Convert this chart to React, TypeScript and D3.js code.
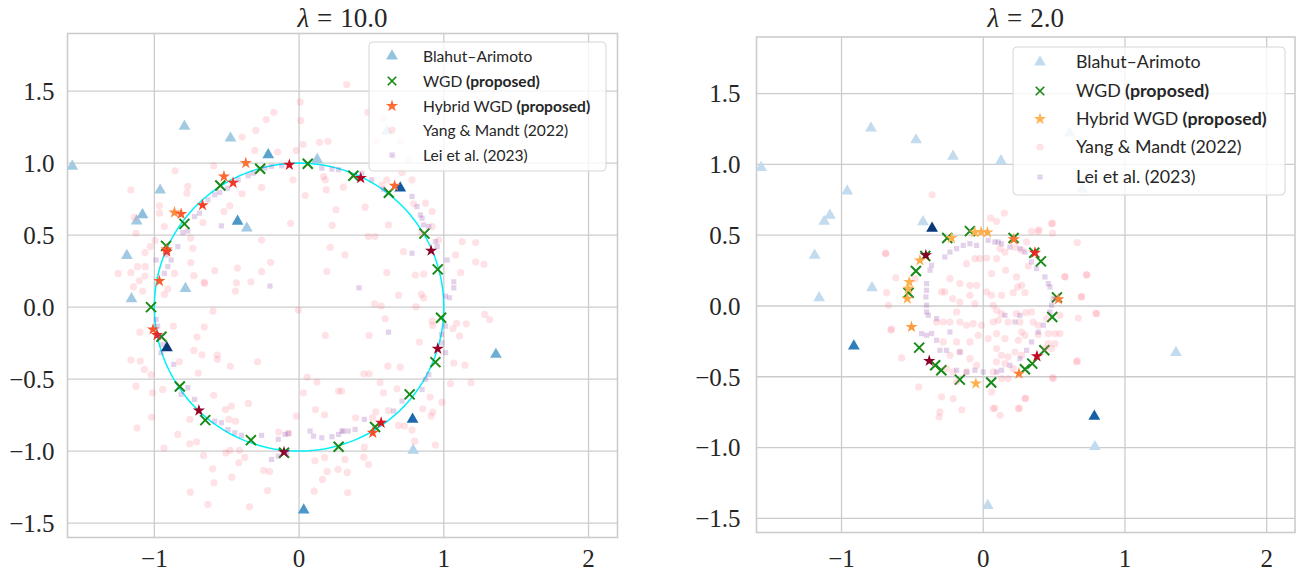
import React from 'react';
import * as d3 from 'd3';

const W = 1297;
const H = 575;

const xTicks = [-1, 0, 1, 2];
const yTicks = [-1.5, -1, -0.5, 0, 0.5, 1, 1.5];
const lambdaLabels = ['10.0', '2.0'];
const legendLabels = ['Blahut\u2013Arimoto', 'WGD', 'Hybrid WGD', 'Yang & Mandt (2022)', 'Lei et al. (2023)'];

// Blahut–Arimoto support points (shared by both panels), with per-panel weights
const baPoints: [number, number][] = [
  [-1.567, 0.977], [-0.792, 1.256], [-0.474, 1.173], [-0.213, 1.057], [0.125, 1.025],
  [-0.96, 0.812], [-1.082, 0.641], [-1.122, 0.597], [-0.425, 0.595], [-0.361, 0.548],
  [-1.19, 0.358], [-1.158, 0.057], [-0.785, 0.128], [-0.913, -0.283], [0.032, -1.41],
  [0.699, 0.826], [0.608, 1.222], [1.36, -0.329], [0.784, -0.78], [0.788, -0.994],
];
const baWeightLeft = [0.36, 0.36, 0.36, 0.55, 0.36, 0.36, 0.42, 0.36, 0.6, 0.36, 0.36, 0.36, 0.36, 0.98, 0.6, 0.84, 0.3, 0.5, 0.78, 0.3];
const baWeightRight = [0.25, 0.25, 0.25, 0.25, 0.25, 0.25, 0.25, 0.25, 0.25, 0.97, 0.25, 0.25, 0.25, 0.7, 0.25, 0.25, 0.25, 0.25, 0.82, 0.25];

const wgdLeft: [number, number][] = [
  [-0.269, 0.961], [0.06, 0.995], [-0.544, 0.845], [-0.792, 0.578], [-0.919, 0.425],
  [0.375, 0.912], [0.62, 0.794], [0.866, 0.51], [0.958, 0.262], [-1.023, 0.0],
  [-0.951, -0.206], [-0.824, -0.551], [-0.648, -0.785], [-0.333, -0.924], [-0.104, -1.012],
  [0.273, -0.97], [0.981, -0.074], [0.942, -0.382], [0.764, -0.606], [0.525, -0.833],
];
const hybridLeft: [number, number, number][] = [
  [-0.368, 1.0, 0.55], [-0.067, 0.988, 0.8], [-0.519, 0.907, 0.57], [-0.456, 0.863, 0.68],
  [-0.667, 0.708, 0.66], [-0.861, 0.657, 0.5], [-0.815, 0.647, 0.6], [-0.916, 0.4, 0.6],
  [-0.914, 0.385, 0.66], [-0.965, 0.181, 0.6], [0.426, 0.896, 0.88], [0.66, 0.842, 0.57],
  [0.912, 0.392, 0.97], [-1.009, -0.155, 0.62], [-0.981, -0.194, 0.72], [-0.692, -0.718, 0.95],
  [-0.104, -1.007, 0.97], [0.958, -0.289, 0.95], [0.567, -0.803, 0.78], [0.509, -0.873, 0.63],
];
const yangLeft: [number, number][] = [
  [0.007, 1.425], [-0.174, 1.353], [-0.227, 1.302], [-0.299, 1.227], [0.012, 1.295], [-0.394, 1.181],
  [0.141, 1.144], [0.199, 1.151], [0.028, 1.13], [-0.019, 1.088], [-0.306, 1.088], [-0.148, 1.077],
  [-0.59, 0.981], [0.169, 0.907], [0.181, 0.884], [-0.042, 0.884], [-0.856, 0.947], [-0.769, 0.838],
  [-1.162, 0.814], [-0.775, 0.791], [-0.394, 0.787], [-0.259, 0.831], [0.042, 0.775], [0.188, 0.814],
  [-0.479, 0.703], [-0.519, 0.664], [0.255, 0.675], [-0.965, 0.703], [-0.965, 0.652], [-1.139, 0.624],
  [-1.127, 0.513], [-0.058, 0.582], [0.229, 0.568], [-0.664, 0.587], [-0.931, 0.559], [-0.75, 0.48],
  [-1.028, 0.42], [0.215, 0.415], [-0.259, 0.466], [-0.734, 0.408], [-1.065, 0.378], [-0.995, 0.462],
  [-1.063, 0.281], [-1.116, 0.281], [-1.162, 0.239], [-1.25, 0.234], [-0.861, 0.234], [-0.748, 0.309],
  [-0.583, 0.253], [-0.727, 0.218], [-0.655, 0.174], [-1.065, 0.216], [-1.104, 0.183], [-0.197, 0.311],
  [-0.259, 0.246], [0.192, 0.248], [-0.426, 0.271], [-0.333, 0.176], [-0.433, 0.169],
  [0.329, 1.545], [0.475, 1.353], [0.537, 1.151], [0.58, 1.31], [0.7, 1.15], [0.76, 1.02],
  [0.306, 0.833], [0.456, 0.694], [0.572, 0.849], [0.606, 0.884], [0.711, 0.935], [0.78, 0.884],
  [0.792, 0.717], [0.873, 0.722], [0.919, 0.664], [0.618, 0.571], [0.479, 0.49], [0.525, 0.49],
  [0.722, 0.385], [0.85, 0.513], [0.919, 0.559], [0.965, 0.466], [1.127, 0.455], [1.22, 0.448],
  [1.081, 0.362], [1.22, 0.313], [1.278, 0.297], [1.116, 0.239], [0.606, 0.239], [0.803, 0.223],
  [0.861, 0.23], [0.317, 0.362],
  [-1.144, 0.141], [-1.081, 0.111], [-0.931, 0.088], [-0.907, 0.127], [-0.653, 0.164], [-0.44, 0.111],
  [-0.595, -0.028], [-0.655, -0.139], [-0.868, -0.132], [-0.706, -0.208], [-1.1, -0.174], [-0.727, -0.301],
  [-0.671, -0.331], [-0.565, -0.333], [-0.565, -0.363], [-1.162, -0.368], [-1.097, -0.375], [-1.069, -0.433],
  [-1.023, -0.468], [-0.475, -0.41], [-0.287, -0.38], [-0.826, -0.38], [-0.697, -0.458], [-1.127, -0.549],
  [-0.942, -0.572], [-1.012, -0.595], [-0.59, -0.613], [-0.35, -0.669], [-0.509, -0.711], [-0.468, -0.688],
  [-0.486, -0.78], [-0.44, -0.792], [-0.755, -0.78], [-1.019, -0.764], [-1.12, -0.84], [-0.838, -0.884],
  [-0.708, -0.935], [-0.755, -0.949], [-0.933, -0.979], [-0.66, -1.03], [-0.597, -1.123], [-0.507, -1.012],
  [-0.477, -0.995], [-0.412, -0.995], [-0.375, -1.044], [-0.417, -1.081], [-0.245, -1.134], [-0.204, -1.141],
  [-0.465, -1.181], [-0.588, -1.22], [-0.752, -1.285], [-0.218, -1.275], [-0.63, -1.37], [-0.343, -1.387],
  [0.056, -0.486], [0.123, -0.521], [0.03, -0.595], [-0.019, -0.757], [0.113, -0.711], [0.176, -0.748],
  [-0.141, -0.868], [-0.072, -0.877], [0.104, -1.278], [0.162, -1.197], [0.194, -1.141], [0.269, -1.127],
  [0.109, -1.067], [0.176, -1.046], [0.273, -0.583], [0.181, -0.197], [-0.005, -0.021],
  [0.6875, 0.083], [0.845, 0.088], [0.861, 0.065], [0.521, 0.023], [0.567, 0.007], [0.808, 0.002],
  [0.595, -0.081], [0.484, -0.197], [0.831, -0.243], [0.919, -0.097], [0.924, -0.127], [1.088, -0.113],
  [1.155, -0.116], [1.063, -0.15], [1.109, -0.201], [1.282, -0.051], [1.317, -0.086], [0.613, -0.41],
  [0.699, -0.417], [0.447, -0.463], [0.484, -0.463], [1.069, -0.389], [1.146, -0.403], [1.046, -0.532],
  [1.188, -0.525], [0.56, -0.525], [0.583, -0.595], [0.676, -0.567], [0.905, -0.625], [0.988, -0.66],
  [0.854, -0.706], [0.912, -0.757], [0.924, -0.729], [0.942, -0.958], [0.799, -0.931], [0.729, -0.826],
  [0.6875, -0.822], [0.78, -0.854], [0.618, -0.718], [0.53, -0.727], [0.391, -0.769], [0.507, -0.769],
  [0.451, -0.972], [0.447, -1.042], [0.479, -1.093], [0.317, -1.058], [0.333, -1.148], [0.336, -1.289],
  [0.294, -0.583],
];
const leiLeft: [number, number][] = [
  [-0.537, 0.564], [-0.803, 0.517], [-0.769, 0.529], [-0.931, 0.234], [-0.907, 0.281], [-0.884, 0.327],
  [-0.838, 0.42], [-0.688, 0.652], [-0.722, 0.629], [-0.63, 0.745], [-0.583, 0.78], [-0.549, 0.796],
  [-0.495, 0.826], [-0.421, 0.884], [-0.352, 0.912], [-0.317, 0.93], [-0.236, 0.965], [-0.19, 0.977],
  [-0.12, 0.981], [0.157, 0.965], [0.227, 0.958], [0.273, 0.954], [-0.988, 0.327], [-0.919, 0.362],
  [0.433, 0.93], [0.502, 0.884], [0.583, 0.819], [0.838, 0.64], [0.85, 0.617], [0.861, 0.571],
  [0.896, 0.559], [0.78, 0.768], [0.815, 0.698], [0.942, 0.455], [0.954, 0.42], [1.023, 0.327],
  [1.069, 0.176], [0.78, 0.374], [0.653, 1.046],
  [-0.201, 0.146], [-0.988, -0.086], [-0.977, -0.132], [-0.965, -0.201], [-0.942, -0.259], [-0.954, -0.317],
  [-0.866, -0.398], [-0.815, -0.606], [-0.769, -0.56], [-0.722, -0.641], [-0.583, -0.792], [-0.537, -0.803],
  [-0.491, -0.85], [-0.444, -0.873], [-0.398, -0.891], [-0.259, -0.891], [-0.144, -0.919], [-0.097, -0.884],
  [-0.074, -0.877], [-0.19, -1.058], [-0.144, -1.035], [-0.086, -1.012], [0.076, -0.861], [0.1, -0.896],
  [0.157, -0.907], [0.227, -0.9], [0.273, -0.884], [0.296, -0.861],
  [0.414, 0.134], [1.012, 0.076], [1.039, 0.065], [1.069, 0.134], [1.012, -0.132], [0.984, -0.19],
  [1.012, -0.317], [0.988, -0.248], [0.896, -0.468], [0.873, -0.502], [0.85, -0.572], [0.711, -0.653],
  [0.653, -0.722], [0.451, -0.78], [0.387, -0.85], [0.34, -0.861], [0.306, -0.861], [0.618, -0.174],
];

const wgdRight: [number, number][] = [
  [-0.094, 0.529], [-0.254, 0.48], [-0.409, 0.353], [-0.475, 0.247], [-0.527, 0.094], [-0.452, -0.294],
  [-0.339, -0.419], [-0.296, -0.454], [-0.165, -0.52], [0.056, -0.541], [0.214, 0.48], [0.36, 0.376],
  [0.407, 0.315], [0.52, 0.061], [0.487, -0.078], [0.431, -0.313], [0.346, -0.407], [0.294, -0.447],
];
const hybridRight: [number, number, number][] = [
  [-0.224, 0.48, 0.38], [-0.06, 0.52, 0.38], [-0.015, 0.522, 0.38], [0.03, 0.52, 0.4],
  [-0.405, 0.358, 1.0], [-0.447, 0.322, 0.4], [-0.522, 0.169, 0.38], [-0.529, 0.122, 0.38],
  [-0.536, 0.052, 0.4], [-0.506, -0.148, 0.45], [-0.381, -0.388, 0.98], [-0.052, -0.548, 0.38],
  [0.216, 0.471, 0.55], [0.365, 0.376, 0.72], [0.53, 0.047, 0.52], [0.379, -0.355, 0.85],
  [0.252, -0.478, 0.52],
];
const yangRight: [number, number][] = [
  [-0.687, 0.369], [-0.482, 0.193], [-0.616, 0.198], [-0.682, 0.094], [-0.668, 0.005], [-0.652, -0.172],
  [-0.576, -0.367], [-0.456, -0.572], [-0.311, -0.784], [-0.212, -0.654], [-0.235, 0.193], [-0.271, 0.099],
  [-0.294, 0.099], [-0.165, 0.158], [-0.094, 0.146], [-0.047, 0.146], [-0.118, 0.299], [-0.059, 0.334],
  [-0.024, 0.334], [0.024, 0.339], [0.094, 0.334], [0.059, 0.228], [-0.094, 0.075], [-0.165, 0.028],
  [-0.216, 0.052], [-0.188, -0.042], [-0.059, 0.016], [0.024, 0.099], [0.059, 0.075], [0.071, 0.005],
  [0.094, -0.031], [-0.329, -0.113], [-0.282, -0.113], [-0.235, -0.113], [-0.165, -0.113], [-0.118, -0.136],
  [-0.071, -0.125], [-0.012, -0.136], [0.071, -0.113], [0.094, -0.195], [-0.282, -0.254], [-0.188, -0.254],
  [-0.094, -0.254], [-0.035, -0.207], [0.035, -0.231], [-0.235, -0.348], [-0.165, -0.325], [-0.094, -0.372],
  [-0.047, -0.419], [0.094, -0.301], [0.094, -0.395], [-0.259, -0.442], [-0.212, -0.466], [-0.118, -0.466],
  [0.071, -0.466], [0.059, -0.607], [0.071, -0.725], [-0.294, -0.642], [-0.188, -0.536], [-0.306, -0.748],
  [0.094, 0.598], [0.482, 0.581], [0.341, 0.527], [0.388, 0.527], [0.306, 0.452], [0.224, 0.416],
  [0.153, 0.381], [0.271, 0.393], [0.118, 0.405], [0.158, 0.252], [0.318, 0.282], [0.235, 0.205],
  [0.271, 0.146], [0.242, 0.134], [0.294, 0.094], [0.129, 0.075], [0.212, 0.094], [0.576, 0.205],
  [0.729, 0.221], [0.694, 0.064], [0.8, -0.054], [0.671, -0.085], [0.541, -0.066], [0.129, -0.054],
  [0.235, -0.054], [0.299, -0.047], [0.341, -0.042], [0.106, -0.101], [0.176, -0.113], [0.259, -0.113],
  [0.353, -0.113], [0.388, -0.136], [0.447, -0.089], [0.271, -0.184], [0.294, -0.207], [0.388, -0.202],
  [0.459, -0.195], [0.506, -0.195], [0.541, -0.195], [0.153, -0.231], [0.247, -0.242], [0.459, -0.266],
  [0.506, -0.266], [0.435, -0.301], [0.482, -0.301], [0.224, -0.325], [0.129, -0.348], [0.176, -0.36],
  [0.271, -0.348], [0.153, -0.407], [0.212, -0.442], [0.659, -0.395], [0.494, -0.513], [0.129, -0.513],
  [0.176, -0.513], [0.294, -0.654], [0.247, -0.725], [0.118, -0.772],
  [-0.361, 0.785], [-0.69, 0.373], [0.052, 0.62], [0.149, 0.656], [0.489, 0.585], [0.393, 0.538],
  [0.664, 0.448], [0.731, 0.219], [0.577, 0.208], [0.489, 0.514], [-0.151, -0.734], [0.082, -0.722],
  [0.256, -0.722], [0.3, -0.652], [0.664, -0.388], [0.693, 0.066], [0.795, -0.052], [0.489, -0.506],
  [-0.647, -0.162],
];
const leiRight: [number, number][] = [
  [-0.365, 0.287], [-0.376, 0.252], [-0.4, 0.158], [-0.4, 0.111], [-0.405, 0.064], [-0.4, 0.005],
  [-0.4, -0.042], [-0.388, -0.066], [-0.435, -0.195], [-0.4, -0.207], [-0.365, -0.195], [-0.329, -0.242],
  [-0.306, -0.313], [-0.259, -0.313], [-0.165, -0.325], [-0.188, -0.454], [-0.118, -0.466], [-0.059, -0.454],
  [0.0, -0.466], [-0.271, 0.346], [-0.235, 0.381], [-0.188, 0.405], [-0.141, 0.428], [-0.094, 0.44],
  [-0.047, 0.428], [0.035, 0.464], [0.082, 0.452], [-0.329, -0.089], [-0.235, -0.184],
  [0.106, 0.452], [0.129, 0.44], [0.188, 0.416], [0.259, 0.405], [0.294, 0.381], [0.341, 0.311],
  [0.376, 0.264], [0.435, 0.205], [0.459, 0.158], [0.471, 0.134], [0.494, 0.052], [0.482, 0.005],
  [0.471, -0.042], [0.424, -0.136], [0.388, -0.184], [0.341, -0.254], [0.306, -0.313], [0.259, -0.372],
  [0.188, -0.419], [0.129, -0.454], [0.094, -0.466], [0.259, -0.066], [0.224, -0.113], [0.153, -0.066],
];

type Panel = {
  lambda: string;
  xRange: [number, number];
  yRange: [number, number];
  baWeights: number[];
  wgd: [number, number][];
  hybrid: [number, number, number][];
  yang: [number, number][];
  lei: [number, number][];
  showCircle: boolean;
  legend: { x0: number; y0: number; x1: number; y1: number; mx: number; tx: number; rows: number[]; fs: number; triT: number; starT: number };
  yLabelGap: number;
};

const panels: Panel[] = [
  {
    lambda: lambdaLabels[0],
    xRange: [67.5, 617.5],
    yRange: [537.5, 33.5],
    baWeights: baWeightLeft,
    wgd: wgdLeft,
    hybrid: hybridLeft,
    yang: yangLeft,
    lei: leiLeft,
    showCircle: true,
    legend: { x0: 369, y0: 42, x1: 606, y1: 171, mx: 392, tx: 423, rows: [56, 81, 106, 130, 155], fs: 15.6, triT: 0.4, starT: 0.57 },
    yLabelGap: 13,
  },
  {
    lambda: lambdaLabels[1],
    xRange: [756.5, 1295],
    yRange: [532.5, 37],
    baWeights: baWeightRight,
    wgd: wgdRight,
    hybrid: hybridRight,
    yang: yangRight,
    lei: leiRight,
    showCircle: false,
    legend: { x0: 1013, y0: 47, x1: 1285, y1: 195, mx: 1040, tx: 1076, rows: [62, 91, 119, 147, 177], fs: 17.8, triT: 0.25, starT: 0.375 },
    yLabelGap: 16,
  },
];

const GRID = '#cccccc';
const GREEN = '#178a17';
const PINK = '#ff6f82';
const PINK_OP = 0.2;
const PURPLE = '#8e44ad';
const PURPLE_OP = 0.24;
const SERIF = '"Liberation Serif", "DejaVu Serif", serif';
const SANS = 'Lato, "Open Sans", "DejaVu Sans", sans-serif';

const triPath = d3.symbol(d3.symbolTriangle, 60)() as string;
const starPath = d3.symbol(d3.symbolStar, 46)() as string;
const xPath = 'M-5,-5L5,5M-5,5L5,-5';

function PanelView({ p }: { p: Panel }) {
  const xs = d3.scaleLinear().domain([-1.6, 2.2]).range(p.xRange);
  const ys = d3.scaleLinear().domain([-1.6, 1.9]).range(p.yRange);
  const [x0, x1] = p.xRange;
  const [yb, yt] = p.yRange;
  const cx = (x0 + x1) / 2;
  const circle = d3.range(0, 361, 2).map((a) => [Math.cos((a * Math.PI) / 180), Math.sin((a * Math.PI) / 180)] as [number, number]);
  const line = d3.line<[number, number]>().x((d) => xs(d[0])).y((d) => ys(d[1]));
  const clipId = `clip-${p.lambda.replace('.', '')}`;
  const L = p.legend;
  return (
    <g>
      <defs>
        <clipPath id={clipId}>
          <rect x={x0} y={yt} width={x1 - x0} height={yb - yt} />
        </clipPath>
      </defs>
      <rect x={x0} y={yt} width={x1 - x0} height={yb - yt} fill="white" />
      {xTicks.map((t) => (
        <line key={`gx${t}`} x1={xs(t)} x2={xs(t)} y1={yt} y2={yb} stroke={GRID} strokeWidth={1.3} />
      ))}
      {yTicks.map((t) => (
        <line key={`gy${t}`} x1={x0} x2={x1} y1={ys(t)} y2={ys(t)} stroke={GRID} strokeWidth={1.3} />
      ))}
      <rect x={x0} y={yt} width={x1 - x0} height={yb - yt} fill="none" stroke={GRID} strokeWidth={1.6} />
      <g clipPath={`url(#${clipId})`}>
        {p.showCircle && <path d={line(circle) as string} fill="none" stroke="#00f0f8" strokeWidth={1.5} />}
        {baPoints.map((d, i) => (
          <path key={`ba${i}`} d={triPath} transform={`translate(${xs(d[0])},${ys(d[1])})`} fill={d3.interpolateBlues(p.baWeights[i])} />
        ))}
        {p.wgd.map((d, i) => (
          <path key={`w${i}`} d={xPath} transform={`translate(${xs(d[0])},${ys(d[1])})`} stroke={GREEN} strokeWidth={2} fill="none" />
        ))}
        {p.hybrid.map((d, i) => (
          <path key={`h${i}`} d={starPath} transform={`translate(${xs(d[0])},${ys(d[1])})`} fill={d3.interpolateYlOrRd(d[2])} />
        ))}
        {p.yang.map((d, i) => (
          <circle key={`y${i}`} cx={xs(d[0])} cy={ys(d[1])} r={3.6} fill={PINK} fillOpacity={PINK_OP} />
        ))}
        {p.lei.map((d, i) => (
          <rect key={`l${i}`} x={xs(d[0]) - 2.6} y={ys(d[1]) - 2.6} width={5.2} height={5.2} fill={PURPLE} fillOpacity={PURPLE_OP} />
        ))}
      </g>
      {xTicks.map((t) => (
        <text key={`tx${t}`} x={xs(t)} y={567} textAnchor="middle" fontFamily={SERIF} fontSize={25} fill="#262626">
          {t < 0 ? `\u2212${Math.abs(t)}` : `${t}`}
        </text>
      ))}
      {yTicks.map((t) => (
        <text key={`ty${t}`} x={x0 - p.yLabelGap} y={ys(t)} dy="0.35em" textAnchor="end" fontFamily={SERIF} fontSize={25} fill="#262626">
          {t < 0 ? `\u2212${Math.abs(t).toFixed(1)}` : t.toFixed(1)}
        </text>
      ))}
      <text x={cx} y={27} textAnchor="middle" fontFamily={SERIF} fontSize={27} fill="#262626">
        <tspan fontStyle="italic">{'\u03bb'}</tspan>
        <tspan dx={8}>=</tspan>
        <tspan dx={8}>{p.lambda}</tspan>
      </text>
      {/* legend */}
      <rect x={L.x0} y={L.y0} width={L.x1 - L.x0} height={L.y1 - L.y0} rx={4} fill="white" fillOpacity={0.8} stroke="#d6d6d6" strokeWidth={1} />
      <path d={triPath} transform={`translate(${L.mx},${L.rows[0]})`} fill={d3.interpolateBlues(L.triT)} />
      <path d={xPath} transform={`translate(${L.mx},${L.rows[1]}) scale(0.85)`} stroke={GREEN} strokeWidth={2} fill="none" />
      <path d={starPath} transform={`translate(${L.mx},${L.rows[2]})`} fill={d3.interpolateYlOrRd(L.starT)} />
      <circle cx={L.mx} cy={L.rows[3]} r={3.6} fill={PINK} fillOpacity={PINK_OP} />
      <rect x={L.mx - 2.6} y={L.rows[4] - 2.6} width={5.2} height={5.2} fill={PURPLE} fillOpacity={PURPLE_OP} />
      {legendLabels.map((lab, i) => (
        <text key={`lg${i}`} x={L.tx} y={L.rows[i]} dy="0.36em" fontFamily={SANS} fontSize={L.fs} fill="#262626">
          {lab}
          {(i === 1 || i === 2) && <tspan fontWeight="bold">{' (proposed)'}</tspan>}
        </text>
      ))}
    </g>
  );
}

export default function App() {
  return (
    <svg width={W} height={H} style={{ position: 'absolute', left: 0, top: 0, background: 'white' }}>
      <rect width={W} height={H} fill="white" />
      {panels.map((p) => (
        <PanelView key={p.lambda} p={p} />
      ))}
    </svg>
  );
}
